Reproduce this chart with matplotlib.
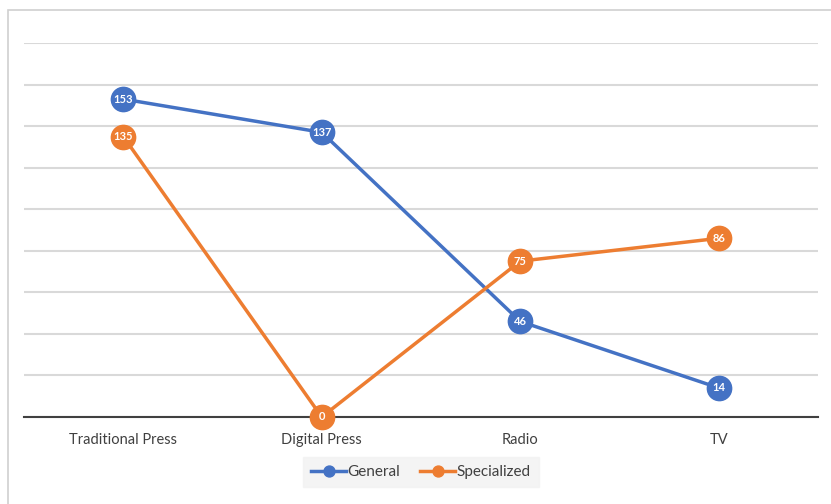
import matplotlib.pyplot as plt
from matplotlib.patches import Rectangle

categories = ['Traditional Press', 'Digital Press', 'Radio', 'TV']
general = [153, 137, 46, 14]
specialized = [135, 0, 75, 86]

plt.rcParams['font.family'] = ['Lato', 'DejaVu Sans']

fig = plt.figure(figsize=(8.31, 5.04), dpi=100)
ax = fig.add_axes([24 / 831, 1 - 417 / 504, 794 / 831, 374 / 504])

# outer chart border, cut off on the right and bottom
fig.patches.append(Rectangle((8 / 831, -0.1), 1.1, 1 - 10 / 504 + 0.1,
                             transform=fig.transFigure, fill=False,
                             edgecolor='#d0d0d0', linewidth=1.2))

x = range(len(categories))
blue = '#4472C4'
orange = '#ED7D31'

ax.plot(x, general, color=blue, linewidth=2.5, marker='o', markersize=17.5,
        label='General', zorder=3, clip_on=False)
ax.plot(x, specialized, color=orange, linewidth=2.5, marker='o', markersize=17.5,
        label='Specialized', zorder=3, clip_on=False)

for xs, vals in ((x, general), (x, specialized)):
    for xi, v in zip(xs, vals):
        ax.text(xi, v, str(v), color='white', fontsize=8, fontweight='bold',
                ha='center', va='center', zorder=4)

ax.set_xlim(-0.5, len(categories) - 0.5)
ax.set_ylim(0, 180)
ax.set_yticks(range(0, 181, 20))
ax.yaxis.grid(True, color='#d9d9d9', linewidth=1.5)
ax.set_axisbelow(True)
ax.tick_params(axis='y', left=False, labelleft=False)
ax.tick_params(axis='x', bottom=False, pad=8, labelsize=10.5, labelcolor='#404040')
ax.set_xticks(list(x))
ax.set_xticklabels(categories)
for side in ('left', 'right', 'top'):
    ax.spines[side].set_visible(False)
ax.spines['bottom'].set_color('#404040')
ax.spines['bottom'].set_linewidth(1.5)

leg = ax.legend(loc='center', bbox_to_anchor=(421 / 831, 1 - 472 / 504),
                bbox_transform=fig.transFigure, ncol=2, frameon=True,
                fancybox=False, fontsize=11, handlelength=2.3,
                handletextpad=0.1, columnspacing=1.3, borderpad=0.55,
                markerscale=0.45)
leg.get_frame().set_facecolor('#f2f2f2')
leg.get_frame().set_edgecolor('#f2f2f2')
for t in leg.get_texts():
    t.set_color('#404040')

fig.savefig('out.png', dpi=100)
